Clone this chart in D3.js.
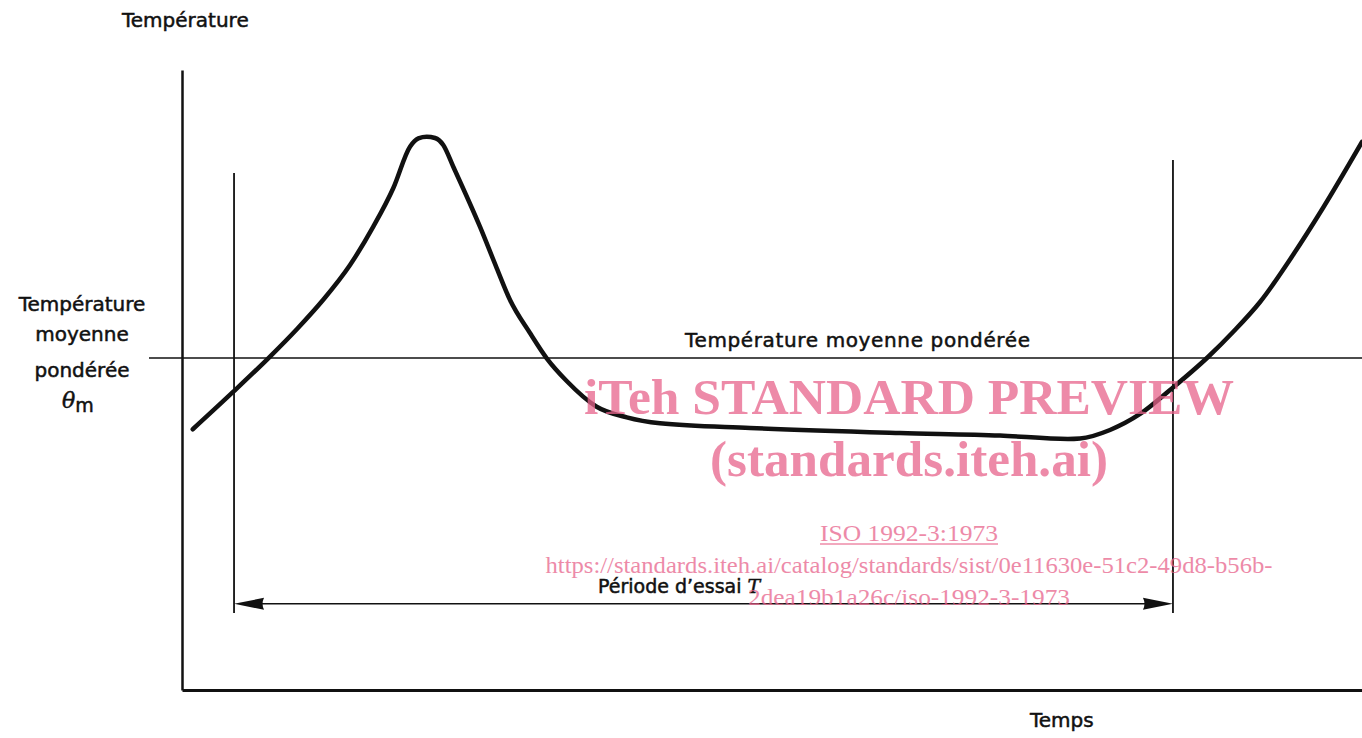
<!DOCTYPE html>
<html>
<head>
  <meta charset="utf-8">
  <title>Température moyenne pondérée</title>
  <style>
    body { margin: 0; background: #fff; }
    text { font-family: "DejaVu Sans", sans-serif; fill: #111; stroke: #111; stroke-width: 0.5px; }
    .wm { font-family: "Liberation Serif", "Times New Roman", serif; fill: rgb(232,100,140); stroke: none; opacity: 0.75; }
  </style>
  <script src="https://d3js.org/d3.v7.min.js"></script>
</head>
<body>
  <div id="chart"></div>
  <script>
    // temperature curve, time 0..100, temperature 0..100 (arbitrary units)
    const curveTime = [0.91, 4.35, 7.31, 9.75, 11.95, 14.24, 16.21, 17.91, 19.32, 20.03, 20.74, 21.44,
      22.14, 22.99, 25.25, 26.67, 27.8, 29.49, 30.91, 32.6, 35.14, 37.69, 40.51, 48.14, 60.85, 69.32,
      75.08, 76.1, 78.64, 81.19, 83.73, 86.95, 89.07, 91.36, 94.15, 96.69, 100];
    const curveTemp = [42.05, 48.11, 53.5, 58.23, 62.9, 68.55, 74.73, 80.97, 87.63, 88.98, 89.24, 89.03,
      87.9, 84.4, 74.73, 68.06, 62.9, 57.58, 53.5, 49.84, 45.69, 43.98, 43.02, 42.26, 41.45, 41.05,
      40.48, 40.56, 41.94, 44.52, 48.39, 53.71, 57.74, 62.58, 70.16, 77.74, 88.39];

    const meanTemp = 53.55;           // θm
    const periodStart = 4.41, periodEnd = 83.98;
    const periodTops = [83.4, 85.5];  // top of the two vertical markers
    const periodBottom = 12.4;
    const arrowLevel = 13.9;

    const labelY = "Température";
    const labelX = "Temps";
    const labelMean = ["Température", "moyenne", "pondérée"];
    const labelMeanLine = "Température moyenne pondérée";
    const labelPeriod = "Période d\u2019essai ";

    const watermark = [
      { text: "iTeh STANDARD PREVIEW", size: 51, bold: true, y: 414, len: 650 },
      { text: "(standards.iteh.ai)", size: 51, bold: true, y: 476, len: 398 },
      { text: "ISO 1992-3:1973", size: 24, bold: false, y: 541, len: 178, underline: true },
      { text: "https://standards.iteh.ai/catalog/standards/sist/0e11630e-51c2-49d8-b56b-", size: 24, bold: false, y: 573, len: 727 },
      { text: "2dea19b1a26c/iso-1992-3-1973", size: 24, bold: false, y: 605, len: 322 }
    ];

    const W = 1362, H = 738;
    const svg = d3.select("#chart").append("svg")
      .attr("width", W)
      .attr("height", H);

    const x = d3.scaleLinear().domain([0, 100]).range([182, 1362]);
    const y = d3.scaleLinear().domain([0, 100]).range([690, 70]);

    // axes (no ticks)
    svg.append("g")
      .attr("transform", `translate(${x(0)},0)`)
      .call(d3.axisLeft(y).tickValues([]).tickSizeOuter(0))
      .select(".domain").attr("stroke", "#111").attr("stroke-width", 2.5);
    svg.append("g")
      .attr("transform", `translate(0,${y(0)})`)
      .call(d3.axisBottom(x).tickValues([]).tickSizeOuter(0))
      .select(".domain").attr("stroke", "#111").attr("stroke-width", 3);

    // mean temperature line
    svg.append("line")
      .attr("x1", x(0) - 33).attr("x2", x(100))
      .attr("y1", y(meanTemp)).attr("y2", y(meanTemp))
      .attr("stroke", "#111").attr("stroke-width", 1.6);

    // test period markers
    [periodStart, periodEnd].forEach((t, i) => {
      svg.append("line")
        .attr("x1", x(t)).attr("x2", x(t))
        .attr("y1", y(periodTops[i])).attr("y2", y(periodBottom))
        .attr("stroke", "#111").attr("stroke-width", 1.8);
    });

    svg.append("line")
      .attr("x1", x(periodStart) + 20).attr("x2", x(periodEnd) - 20)
      .attr("y1", y(arrowLevel)).attr("y2", y(arrowLevel))
      .attr("stroke", "#111").attr("stroke-width", 1.6);

    const ay = y(arrowLevel);
    const headL = 30, headW = 6;
    svg.append("path")
      .attr("d", `M${x(periodStart)},${ay} L${x(periodStart) + headL},${ay - headW} Q${x(periodStart) + headL - 3},${ay} ${x(periodStart) + headL},${ay + headW} Z`)
      .attr("fill", "#111");
    svg.append("path")
      .attr("d", `M${x(periodEnd)},${ay} L${x(periodEnd) - headL},${ay - headW} Q${x(periodEnd) - headL + 3},${ay} ${x(periodEnd) - headL},${ay + headW} Z`)
      .attr("fill", "#111");

    // temperature curve
    const pts = curveTime.map((t, i) => [t, curveTemp[i]]);
    const line = d3.line()
      .x(d => x(d[0]))
      .y(d => y(d[1]))
      .curve(d3.curveMonotoneX);
    svg.append("path")
      .datum(pts)
      .attr("d", line)
      .attr("fill", "none")
      .attr("stroke", "#111")
      .attr("stroke-width", 4.5)
      .attr("stroke-linecap", "round")
      .attr("stroke-linejoin", "round");

    // labels
    svg.append("text").attr("x", 122).attr("y", 27)
      .style("font-size", "20px").text(labelY);
    svg.append("text").attr("x", 1030).attr("y", 727)
      .style("font-size", "20px").text(labelX);

    const meanLabel = svg.append("text")
      .attr("text-anchor", "middle")
      .style("font-size", "20px");
    const meanBaselines = [311, 341, 377];
    labelMean.forEach((s, i) => {
      meanLabel.append("tspan").attr("x", 82).attr("y", meanBaselines[i]).text(s);
    });
    const theta = svg.append("text").attr("x", 62).attr("y", 408)
      .style("font-size", "22px");
    theta.append("tspan")
      .style("font-family", "'DejaVu Serif', serif").style("font-style", "italic").text("θ");
    theta.append("tspan").attr("dy", 4).style("font-size", "19px").text("m");

    svg.append("text").attr("x", 685).attr("y", 347)
      .attr("textLength", 345).attr("lengthAdjust", "spacing")
      .style("font-size", "20px").text(labelMeanLine);

    const per = svg.append("text").attr("x", 598).attr("y", 593)
      .style("font-size", "19px");
    per.append("tspan").text(labelPeriod);
    per.append("tspan")
      .style("font-family", "'DejaVu Serif', serif").style("font-style", "italic").text("T");

    // watermark
    watermark.forEach(w => {
      svg.append("text")
        .attr("class", "wm")
        .attr("x", 909).attr("y", w.y)
        .attr("text-anchor", "middle")
        .attr("textLength", w.len).attr("lengthAdjust", "spacingAndGlyphs")
        .style("font-size", w.size + "px")
        .style("font-weight", w.bold ? "bold" : "normal")
        .text(w.text);
      if (w.underline) {
        svg.append("line")
          .attr("x1", 909 - w.len / 2).attr("x2", 909 + w.len / 2)
          .attr("y1", w.y + 3).attr("y2", w.y + 3)
          .attr("stroke", "rgb(232,100,140)").attr("stroke-opacity", 0.75)
          .attr("stroke-width", 1.3);
      }
    });
  </script>
</body>
</html>
